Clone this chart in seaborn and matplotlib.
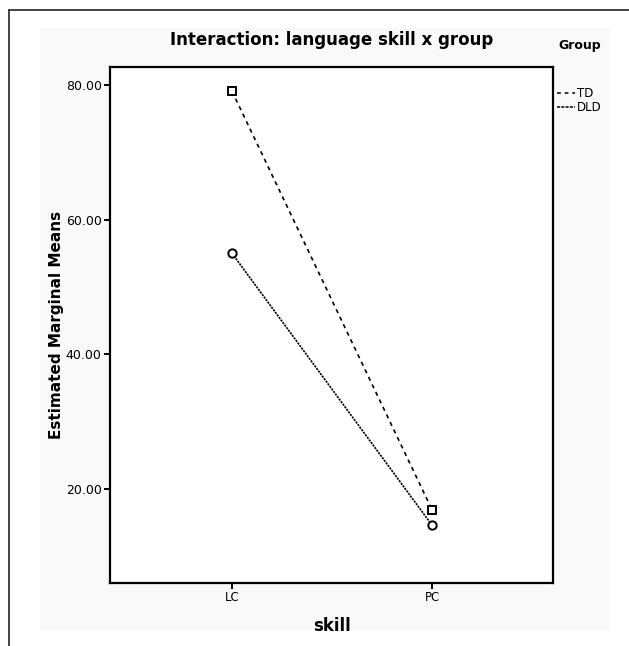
import matplotlib
matplotlib.use('Agg')
import matplotlib.pyplot as plt
from matplotlib.lines import Line2D
from matplotlib.patches import Rectangle
import seaborn as sns
import pandas as pd

# dados
skills = ['LC', 'PC']
groups = ['TD', 'DLD']
td_means = [79.1, 16.9]
dld_means = [55.0, 14.6]
yticks = [20, 40, 60, 80]

df = pd.DataFrame({
    'skill': skills * 2,
    'group': [groups[0]] * 2 + [groups[1]] * 2,
    'mean': td_means + dld_means,
})

sns.set_theme(style='white')
plt.rcParams['font.family'] = ['DejaVu Sans']
plt.rcParams['text.color'] = 'black'
plt.rcParams['axes.labelcolor'] = 'black'
plt.rcParams['xtick.color'] = 'black'
plt.rcParams['ytick.color'] = 'black'

fig = plt.figure(figsize=(6.29, 6.46), dpi=100)
W, H = 629, 646

# fundo cinza claro e moldura externa
fig.patches.append(Rectangle((40 / W, 1 - 630 / H), 570 / W, 602 / H,
                             transform=fig.transFigure, facecolor='#f9f9f9',
                             edgecolor='none', zorder=-1))
fig.add_artist(Line2D([9 / W, 9 / W], [0, 1 - 10 / H], transform=fig.transFigure,
                      color='#222222', lw=1.2))
fig.add_artist(Line2D([9 / W, 1], [1 - 10 / H, 1 - 10 / H], transform=fig.transFigure,
                      color='#222222', lw=1.2))

ax = fig.add_axes([110 / W, 1 - 583 / H, 443 / W, 516 / H])
ax.set_facecolor('white')

sns.lineplot(data=df, x='skill', y='mean', hue='group', style='group',
             hue_order=groups, style_order=groups,
             palette=['black', 'black'],
             markers={'TD': 's', 'DLD': 'o'},
             dashes={'TD': (2.5, 2.5), 'DLD': (1.3, 0.6)},
             markersize=6, markerfacecolor='white', markeredgecolor='black',
             markeredgewidth=1.4, linewidth=1.2, legend=False, ax=ax)

ax.set_xlim(-0.61, 1.605)
ax.set_ylim(6.0, 82.7)
ax.set_yticks(yticks)
ax.set_yticklabels([f'{v:.2f}' for v in yticks])

for s in ax.spines.values():
    s.set_color('black')
    s.set_linewidth(1.6)

ax.tick_params(axis='both', which='major', direction='out', length=4, width=1.4,
               color='black', labelsize=9, pad=2, bottom=True, left=True)
ax.tick_params(axis='x', labelsize=8.5)

ax.set_xlabel('skill', fontsize=12, fontweight='bold', labelpad=9)
ax.set_ylabel('Estimated Marginal Means', fontsize=11, fontweight='bold', labelpad=1)
ax.set_title('Interaction: language skill x group', fontsize=12, fontweight='bold', pad=16)

# legenda sem marcadores, fora do eixo
fig.text(580 / W, 1 - 45 / H, 'Group', fontsize=9, fontweight='bold',
         ha='center', va='center')
handles = [Line2D([0], [0], color='black', lw=1.1, dashes=(2.5, 2.5)),
           Line2D([0], [0], color='black', lw=1.1, dashes=(2.0, 0.8))]
leg = fig.legend(handles, groups, loc='upper left',
                 bbox_to_anchor=(557 / W, 1 - 87 / H), frameon=False,
                 fontsize=8.5, handlelength=1.5, handletextpad=0.2,
                 labelspacing=0.1, borderaxespad=0, borderpad=0)

fig.savefig('out.png', dpi=100)
